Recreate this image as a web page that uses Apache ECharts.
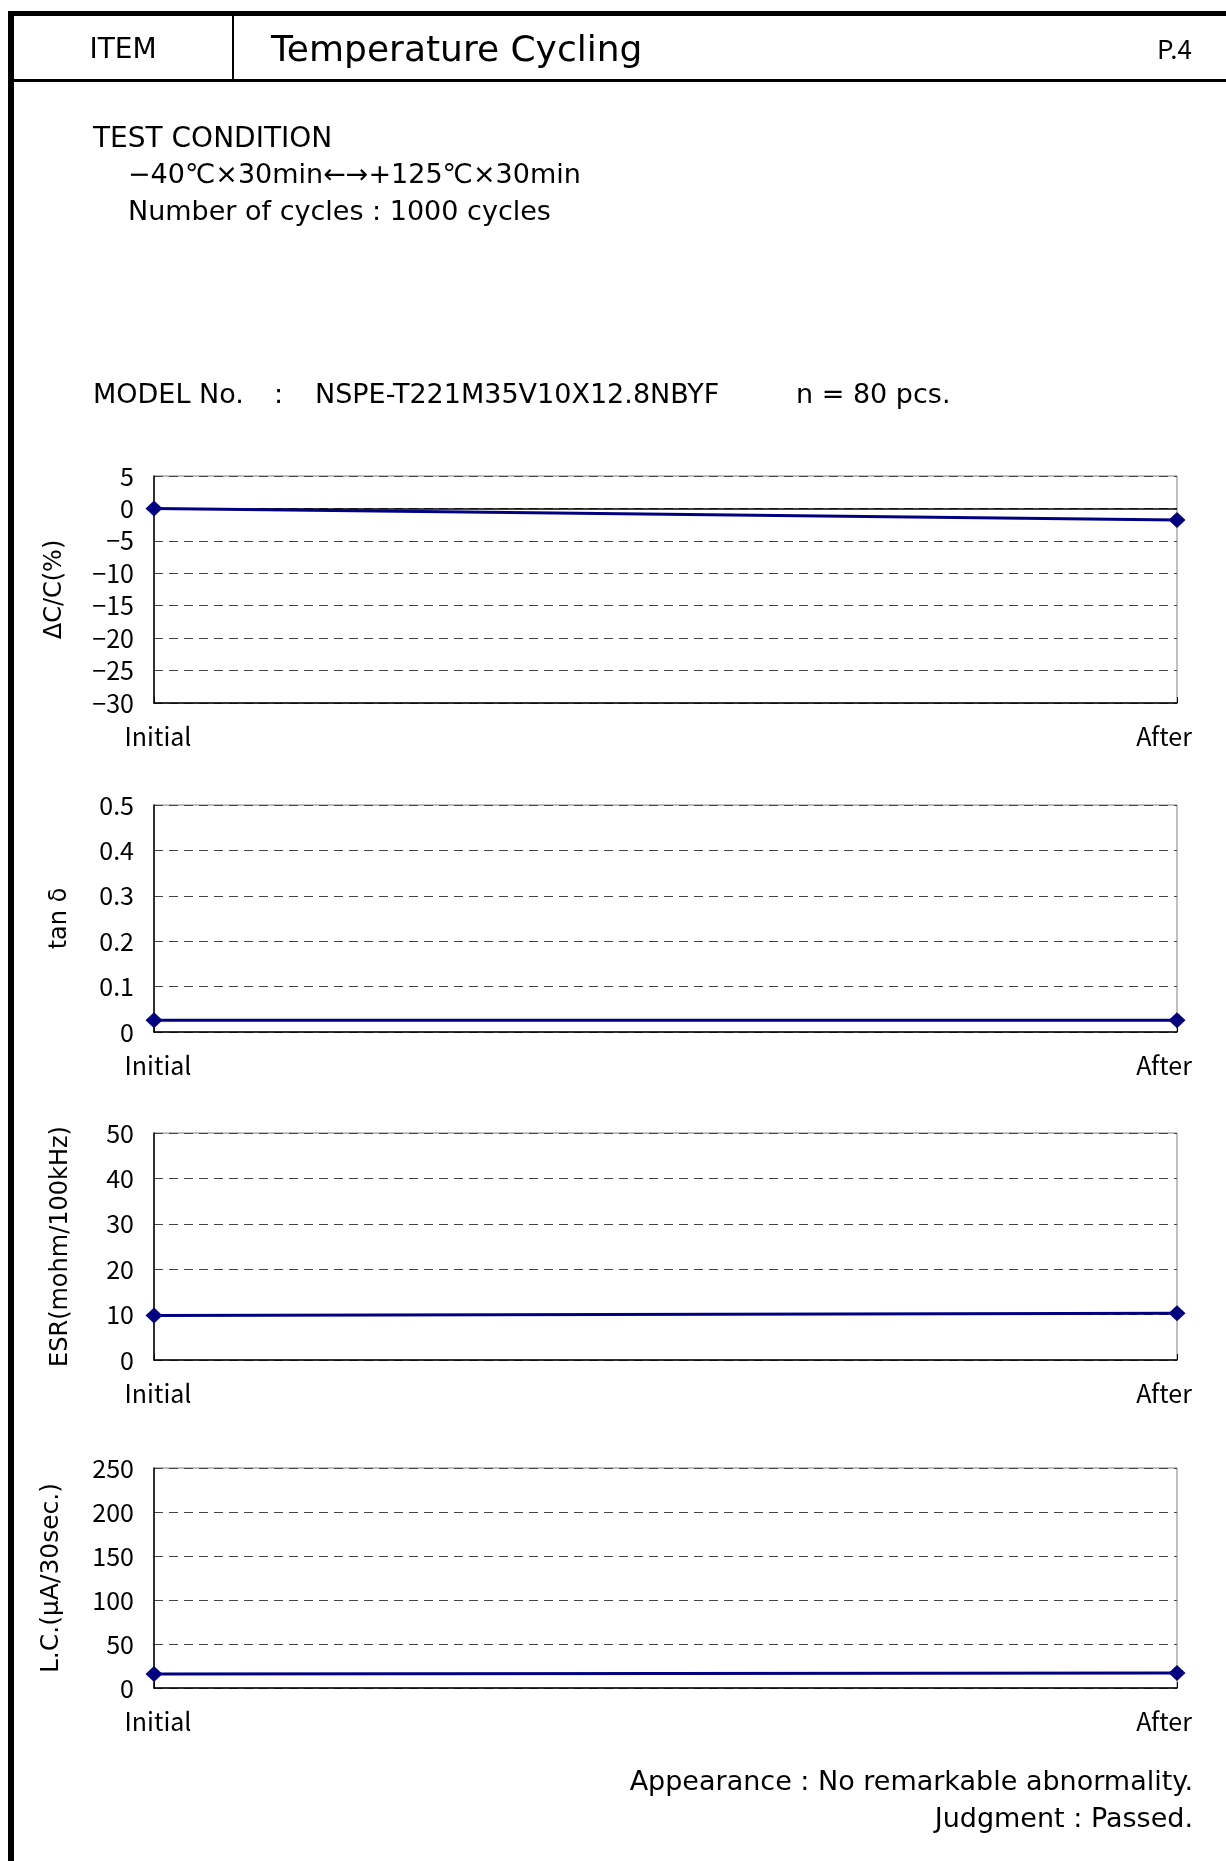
<!DOCTYPE html>
<html>
<head>
<meta charset="utf-8">
<title>Temperature Cycling</title>
<script src="https://cdn.jsdelivr.net/npm/echarts@6/dist/echarts.min.js"></script>
<style>
  html, body { margin: 0; padding: 0; background: #fff; }
  #main { width: 1226px; height: 1861px; }
</style>
</head>
<body>
<div id="main"></div>
<script>
// data
var categories = ["Initial", "After"];
var dcValues = [0, -1.8];
var tanValues = [0.026, 0.026];
var esrValues = [9.8, 10.3];
var lcValues = [16, 17];

// y tick labels of the four panels
var dcTicks = [-30, -25, -20, -15, -10, -5, 0, 5];
var tanTicks = [0, 0.1, 0.2, 0.3, 0.4, 0.5];
var esrTicks = [0, 10, 20, 30, 40, 50];
var lcTicks = [0, 50, 100, 150, 200, 250];

var axisNames = ["ΔC/C(%)", "tan δ", "ESR(mohm/100kHz)", "L.C.(μA/30sec.)"];

var FONT = "'Noto Sans CJK JP', 'Noto Sans', sans-serif";
var TEXT_FONT = "'DejaVu Sans', 'Noto Sans CJK JP', sans-serif";

var page = {
  init: function() {
    page.draw();
  },
  // panel layout: top, height, nameGap, name size
  panels: [
    { top: 476, height: 227, nameGap: 87, nameSize: 24 },
    { top: 805, height: 227, nameGap: 82, nameSize: 24 },
    { top: 1133, height: 227, nameGap: 81, nameSize: 24 },
    { top: 1468, height: 220, nameGap: 90, nameSize: 25 }
  ],
  xAxis: function(i) {
    var data = categories.map(function(c, k) {
      return {
        value: c,
        textStyle: { padding: k == 0 ? [0, 0, 0, 8] : [0, 26, 0, 0] }
      };
    });
    return {
      type: "category",
      gridIndex: i,
      boundaryGap: false,
      data: data,
      axisLine: { show: true, onZero: false, lineStyle: { color: "#000", width: 1.5 } },
      axisTick: { show: true, inside: true, length: 6, lineStyle: { color: "#000" } },
      axisLabel: { margin: 21, fontSize: 25, color: "#000", fontFamily: FONT },
      splitLine: { show: false }
    };
  },
  yAxis: function(i, ticks) {
    return {
      type: "value",
      gridIndex: i,
      min: ticks[0],
      max: ticks[ticks.length - 1],
      interval: ticks[1] - ticks[0],
      name: axisNames[i],
      nameLocation: "middle",
      nameRotate: 90,
      nameGap: page.panels[i].nameGap,
      nameTextStyle: { fontSize: page.panels[i].nameSize, color: "#000", fontFamily: TEXT_FONT },
      axisLine: { show: true, lineStyle: { color: "#000", width: 1.5 } },
      axisTick: { show: false },
      axisLabel: {
        margin: 20,
        fontSize: 25,
        color: "#000",
        fontFamily: FONT,
        formatter: function(v) {
          return String(Math.round(v * 1000) / 1000).replace("-", "−");
        }
      },
      splitLine: {
        show: true,
        lineStyle: { type: [9, 6], color: "#444", width: 1 }
      }
    };
  },
  series: function(i, values) {
    var s = {
      type: "line",
      xAxisIndex: i,
      yAxisIndex: i,
      data: values,
      clip: false,
      symbol: "diamond",
      symbolSize: [17, 16],
      lineStyle: { color: "#000080", width: 3 },
      itemStyle: { color: "#000080" },
      z: 5
    };
    if (i == 0) {
      // zero line of the ΔC/C panel
      s.markLine = {
        silent: true,
        symbol: "none",
        label: { show: false },
        lineStyle: { color: "#000", type: "solid", width: 1.5 },
        data: [{ yAxis: 0 }]
      };
    }
    return s;
  },
  text: function(x, y, str, size, align, family) {
    return {
      type: "text",
      x: x,
      y: y,
      style: {
        text: str,
        fill: "#000",
        font: size + "px " + (family || TEXT_FONT),
        align: align || "left",
        verticalAlign: "middle"
      }
    };
  },
  draw: function() {
    var myChart = echarts.init(document.getElementById("main"));
    var grids = page.panels.map(function(p) {
      return {
        left: 154,
        width: 1023,
        top: p.top,
        height: p.height,
        show: true,
        borderColor: "#808080",
        borderWidth: 1,
        outerBoundsMode: "none"
      };
    });
    var option = {
      animation: false,
      backgroundColor: "#fff",
      grid: grids,
      xAxis: [page.xAxis(0), page.xAxis(1), page.xAxis(2), page.xAxis(3)],
      yAxis: [
        page.yAxis(0, dcTicks),
        page.yAxis(1, tanTicks),
        page.yAxis(2, esrTicks),
        page.yAxis(3, lcTicks)
      ],
      series: [
        page.series(0, dcValues),
        page.series(1, tanValues),
        page.series(2, esrValues),
        page.series(3, lcValues)
      ],
      graphic: [
        // sheet frame
        { type: "rect", shape: { x: 8, y: 11, width: 6, height: 1850 }, style: { fill: "#000" } },
        { type: "rect", shape: { x: 8, y: 11, width: 1218, height: 5 }, style: { fill: "#000" } },
        { type: "rect", shape: { x: 8, y: 79, width: 1218, height: 3 }, style: { fill: "#000" } },
        { type: "rect", shape: { x: 232, y: 16, width: 2, height: 63 }, style: { fill: "#000" } },
        page.text(123, 51, "ITEM", 28, "center"),
        page.text(271, 52, "Temperature Cycling", 36),
        page.text(1157, 49, "P.4", 26, "left", FONT),
        page.text(93, 140, "TEST CONDITION", 28),
        page.text(128, 176, "−40℃×30min←→+125℃×30min", 27),
        page.text(128, 213, "Number of cycles : 1000 cycles", 27),
        page.text(93, 396, "MODEL No.", 27),
        page.text(274, 396, ":", 27),
        page.text(315, 396, "NSPE-T221M35V10X12.8NBYF", 27),
        page.text(796, 396, "n = 80 pcs.", 27),
        page.text(1193, 1783, "Appearance : No remarkable abnormality.", 27, "right"),
        page.text(1193, 1820, "Judgment : Passed.", 27, "right")
      ]
    };
    myChart.setOption(option);
  }
};
page.init();
</script>
</body>
</html>
